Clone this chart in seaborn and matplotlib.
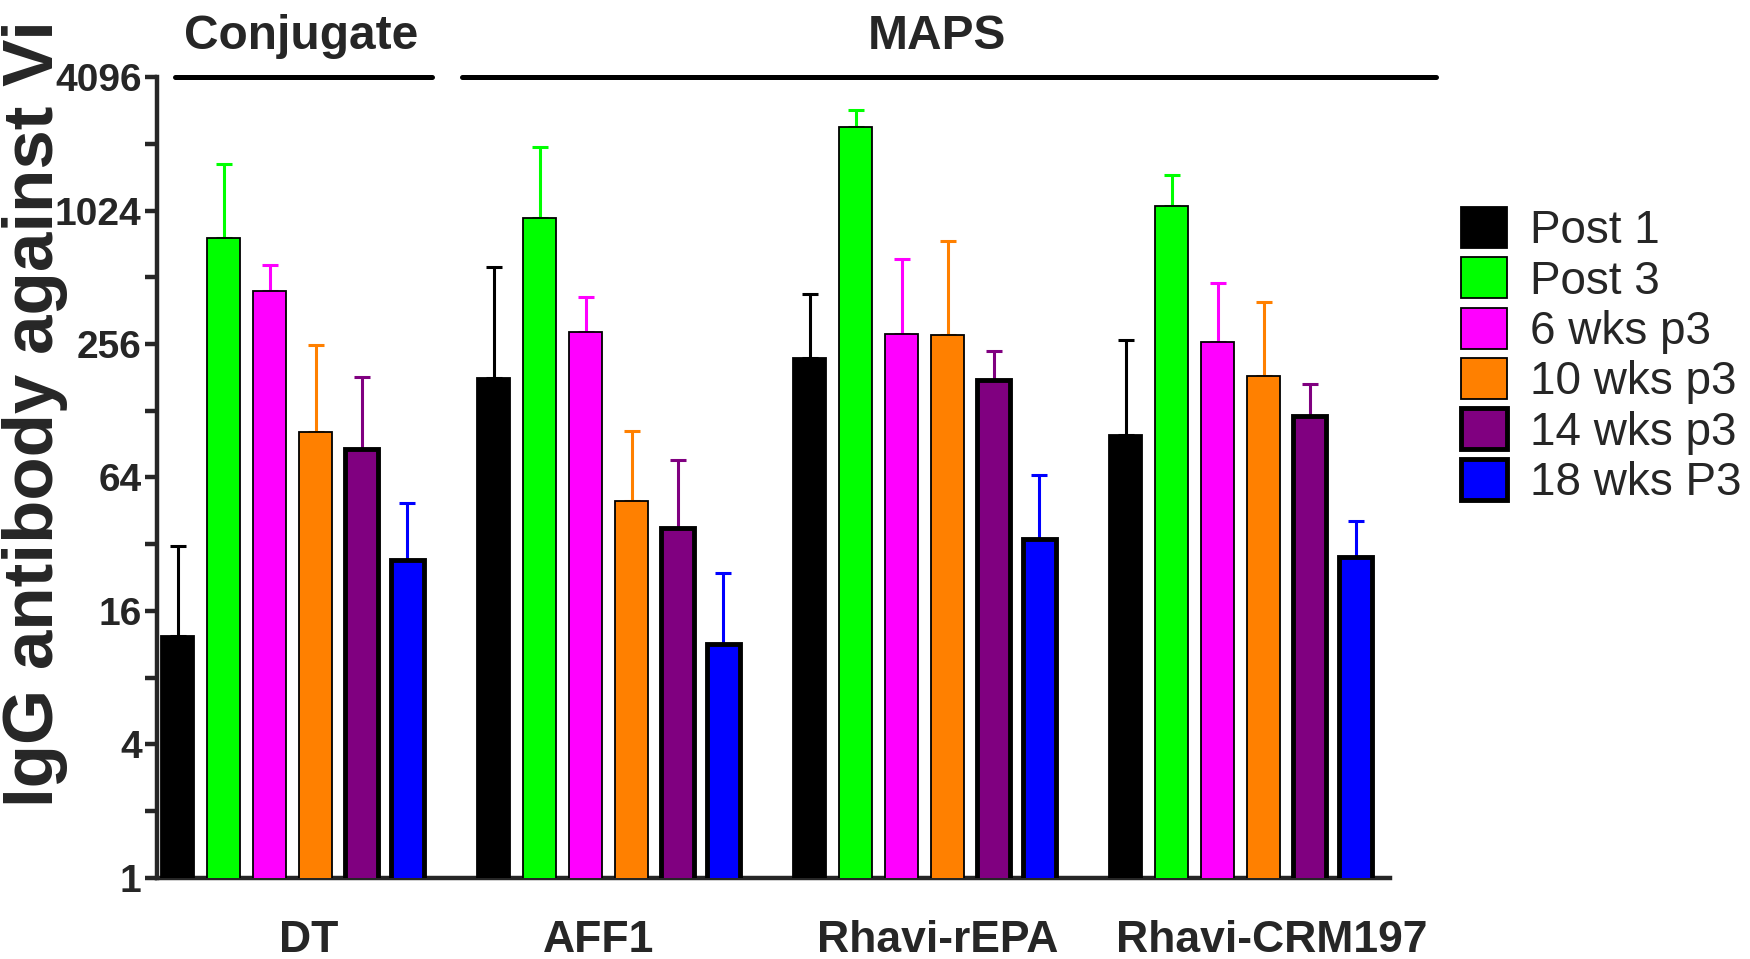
import numpy as np
import pandas as pd
import matplotlib
matplotlib.use('Agg')
import matplotlib.pyplot as plt
import seaborn as sns

sns.set_style("ticks")
plt.rcParams['font.family'] = ['Liberation Sans', 'DejaVu Sans']

# data (geometric mean titres, upper error bar ends)
groups = ['DT', 'AFF1', 'Rhavi-rEPA', 'Rhavi-CRM197']
timepoints = ['Post 1', 'Post 3', '6 wks p3', '10 wks p3', '14 wks p3', '18 wks P3']
colors = ['#000000', '#00FF00', '#FF00FF', '#FF8000', '#800080', '#0000FF']

post1 = [12.4, 179, 222, 100]
post3 = [767, 944, 2435, 1073]
wk6 = [446, 291, 284, 262]
wk10 = [103, 50, 280, 183]
wk14 = [86, 38, 177, 121]
wk18 = [27.2, 11.3, 33.9, 27.9]

post1_hi = [31.3, 568, 431, 268]
post3_hi = [1663, 1978, 2896, 1484]
wk6_hi = [582, 416, 616, 483]
wk10_hi = [253, 104, 749, 397]
wk14_hi = [181, 77, 239, 169]
wk18_hi = [49, 23.7, 66, 40.8]

ytick_vals = [2 ** i for i in range(13)]
ytick_labels = ['1', '', '4', '', '16', '', '64', '', '256', '', '1024', '', '4096']

means = [post1, post3, wk6, wk10, wk14, wk18]
uppers = [post1_hi, post3_hi, wk6_hi, wk10_hi, wk14_hi, wk18_hi]

rows = []
for tp, vals in zip(timepoints, means):
    for g, v in zip(groups, vals):
        rows.append({'group': g, 'timepoint': tp, 'titre': v})
df = pd.DataFrame(rows)

fig = plt.figure(figsize=(17.5, 9.59), dpi=100)
ax = fig.add_axes([0.0897, 0.0845, 0.7046, 0.8352])
ax.set_yscale('log', base=2)

sns.barplot(data=df, x='group', y='titre', hue='timepoint', order=groups,
            hue_order=timepoints, palette=colors, width=0.873, gap=0.285,
            errorbar=None, edgecolor='black', linewidth=1.3, saturation=1,
            legend=False, ax=ax, zorder=3)

# thick black outlines on the last two series
for i, cont in enumerate(ax.containers):
    lw = 3.5 if i >= 4 else 1.3
    for bar in cont:
        bar.set_linewidth(lw)
        bar.set_edgecolor('black')

# upward-only error bars
for cont, col, vals, hi in zip(ax.containers, colors, means, uppers):
    xs = [b.get_x() + b.get_width() / 2 for b in cont]
    vals = np.array(vals)
    hi = np.array(hi)
    ax.errorbar(xs, vals, yerr=[np.zeros_like(vals), hi - vals], fmt='none',
                ecolor=col, elinewidth=2.2, capsize=6, capthick=2.2, zorder=2)

ax.set_ylim(1, 4096)
ax.set_xlim(-0.429, 3.473)
ax.set_yticks(ytick_vals)
ax.set_yticklabels(ytick_labels)
ax.yaxis.set_minor_locator(matplotlib.ticker.NullLocator())
# group labels sit slightly off the group centres in the original
ax.set_xticks([0.05, 0.97, 2.04, 3.1])
ax.set_xticklabels(groups)
ax.tick_params(axis='y', length=9, width=3.2, pad=2, labelsize=28)
ax.tick_params(axis='x', length=0, pad=30, labelsize=32)
for lab in ax.get_yticklabels() + ax.get_xticklabels():
    lab.set_fontweight('bold')

ax.set_xlabel('')
ax.set_ylabel('IgG antibody against Vi', fontsize=51, fontweight='bold')
ax.yaxis.set_label_coords(-0.072, 0.58)

sns.despine(ax=ax)
for side in ['left', 'bottom']:
    ax.spines[side].set_linewidth(3.2)

# group brackets above the plot
tr = ax.get_xaxis_transform()
ax.plot([-0.372, 0.441], [1.0, 1.0], transform=tr, color='black', lw=3.6,
        solid_capstyle='round', clip_on=False)
ax.plot([0.536, 3.618], [1.0, 1.0], transform=tr, color='black', lw=3.6,
        solid_capstyle='round', clip_on=False)
ax.text(0.027, 1.05, 'Conjugate', transform=tr, ha='center', va='center',
        fontsize=34.5, fontweight='bold')
ax.text(2.04, 1.05, 'MAPS', transform=tr, ha='center', va='center',
        fontsize=34.5, fontweight='bold')

handles = [cont[0] for cont in ax.containers]
fig.legend(handles, timepoints, loc='upper left', bbox_to_anchor=(0.835, 0.784),
           frameon=False, fontsize=33, handlelength=1.0, handleheight=1.0,
           handletextpad=0.5, labelspacing=0.09, borderpad=0, borderaxespad=0)

fig.savefig('out.png', dpi=100)
